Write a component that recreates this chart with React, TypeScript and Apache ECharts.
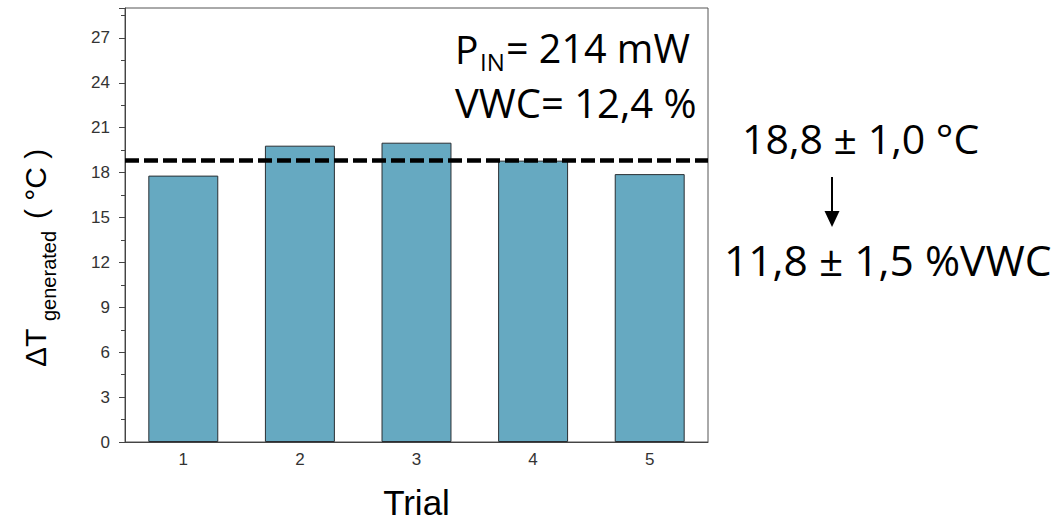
import React, { useEffect, useRef } from "react";
import * as echarts from "echarts";

// Trial numbers and the temperature rise measured in each trial (°C)
const trials = ["1", "2", "3", "4", "5"];
const deltaT = [17.8, 19.8, 20.0, 18.8, 17.9];
// Mean temperature rise over the five trials (°C)
const meanDeltaT = 18.8;

// Value axis range and step (°C)
const yMin = 0;
const yMax = 29;
const yStep = 3;

const AXIS_FONT = "'Liberation Sans', Arial, sans-serif";
const NOTE_FONT = "'Open Sans', 'Noto Sans', sans-serif";

export default function App() {
  const ref = useRef<HTMLDivElement>(null);

  useEffect(() => {
    if (!ref.current) return;
    const chart = echarts.init(ref.current, null, { renderer: "svg" });

    const noteStyle = (fontSize: number) => ({
      fill: "#000",
      font: `${fontSize}px ${NOTE_FONT}`,
      verticalAlign: "middle" as const,
    });

    chart.setOption({
      animation: false,
      backgroundColor: "#fff",
      grid: {
        left: 125,
        top: 8,
        right: 350,
        bottom: 82,
        outerBoundsMode: "none",
        containLabel: false,
        show: true,
        borderColor: "#555",
        borderWidth: 1,
        backgroundColor: "transparent",
      },
      xAxis: [
        {
          type: "category",
          data: trials,
          boundaryGap: true,
          axisLine: { lineStyle: { color: "#444", width: 1 } },
          axisTick: { alignWithLabel: true, length: 7, lineStyle: { color: "#444" } },
          axisLabel: {
            color: "#333",
            fontFamily: AXIS_FONT,
            fontSize: 17,
            margin: 9,
          },
          name: "Trial",
          nameLocation: "middle",
          nameGap: 45,
          nameTextStyle: {
            color: "#000",
            fontFamily: AXIS_FONT,
            fontSize: 35,
            lineHeight: 31,
          },
        },
        {
          type: "category",
          data: trials,
          position: "bottom",
          boundaryGap: true,
          axisLine: { show: false },
          axisTick: { alignWithLabel: false, length: 4, lineStyle: { color: "#444" } },
          axisLabel: { show: false },
        },
      ],
      yAxis: {
        type: "value",
        min: yMin,
        max: yMax,
        interval: yStep,
        axisLine: { show: true, lineStyle: { color: "#444", width: 1 } },
        axisTick: { show: true, length: 6, lineStyle: { color: "#444" } },
        minorTick: { show: true, splitNumber: 2, length: 4, lineStyle: { color: "#444" } },
        splitLine: { show: false },
        axisLabel: {
          color: "#333",
          fontFamily: AXIS_FONT,
          fontSize: 17,
          margin: 15,
          showMaxLabel: false,
        },
      },
      series: [
        {
          type: "bar",
          data: deltaT,
          barWidth: "60%",
          itemStyle: { color: "#66a9c1", borderColor: "#2a2f33", borderWidth: 1 },
          markLine: {
            silent: true,
            symbol: ["none", "none"],
            label: { show: false },
            lineStyle: { color: "#000", width: 4.5, type: [14, 5] },
            data: [{ yAxis: meanDeltaT }],
          },
        },
      ],
      graphic: [
        // Rotated value-axis title: ΔT with "generated" subscript, then (°C)
        {
          type: "group",
          x: 35,
          y: 367,
          rotation: Math.PI / 2,
          children: [
            {
              type: "text",
              x: 0,
              y: 0,
              style: {
                text: "ΔT",
                fill: "#000",
                font: `30px ${AXIS_FONT}`,
                align: "left",
                verticalAlign: "middle",
              },
            },
            {
              type: "text",
              x: 46,
              y: 14,
              style: {
                text: "generated",
                fill: "#000",
                font: `20px ${AXIS_FONT}`,
                align: "left",
                verticalAlign: "middle",
              },
            },
            {
              type: "text",
              x: 148,
              y: 0,
              style: {
                text: "( °C )",
                fill: "#000",
                font: `30px ${AXIS_FONT}`,
                align: "left",
                verticalAlign: "middle",
              },
            },
          ],
        },
        // Input power and soil water content
        { type: "text", x: 455, y: 48, style: { ...noteStyle(39), text: "P" } },
        { type: "text", x: 480, y: 61, style: { ...noteStyle(24), text: "IN" } },
        { type: "text", x: 506, y: 48, style: { ...noteStyle(39.5), text: "= 214 mW" } },
        { type: "text", x: 455, y: 102, style: { ...noteStyle(40), text: "VWC= 12,4 %" } },
        // Mean result and the derived water content
        { type: "text", x: 742, y: 138, style: { ...noteStyle(41), text: "18,8 ± 1,0 °C" } },
        {
          type: "line",
          shape: { x1: 832, y1: 177, x2: 832, y2: 213 },
          style: { stroke: "#000", lineWidth: 2 },
        },
        {
          type: "polygon",
          shape: { points: [[824.5, 211], [839.5, 211], [832, 227]] },
          style: { fill: "#000" },
        },
        { type: "text", x: 724, y: 259, style: { ...noteStyle(42.5), text: "11,8 ± 1,5 %VWC" } },
      ],
    });

    return () => chart.dispose();
  }, []);

  return (
    <div
      ref={ref}
      style={{ position: "absolute", left: 0, top: 0, width: 1058, height: 524 }}
    />
  );
}
